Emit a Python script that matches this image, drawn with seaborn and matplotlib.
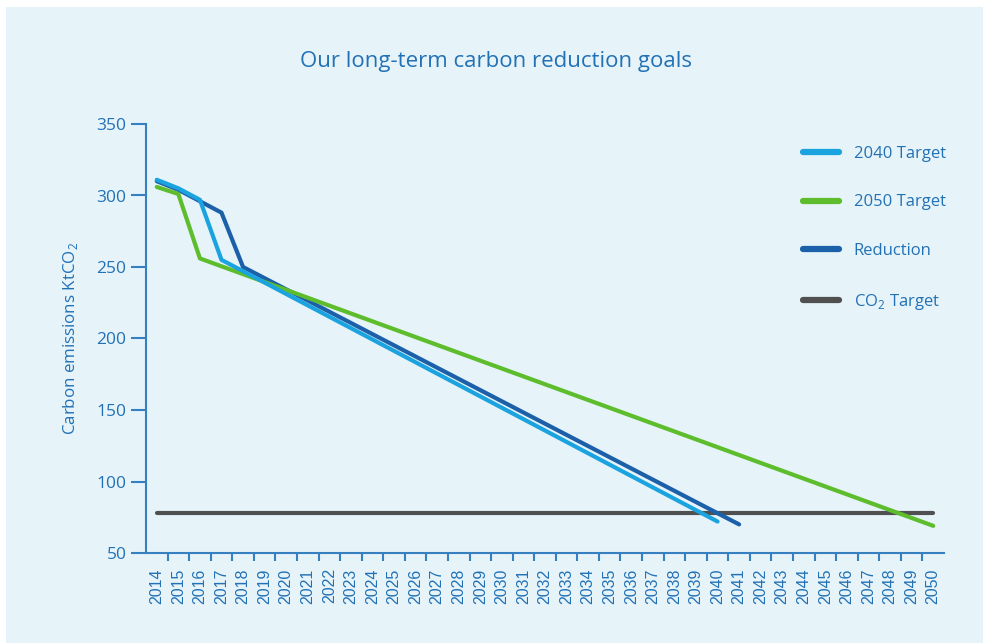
import pandas as pd
import numpy as np
import matplotlib.pyplot as plt
import seaborn as sns
from matplotlib.lines import Line2D
from matplotlib.patches import Rectangle

# values (vertices of each line)
years_2040 = [2014, 2015, 2016, 2017, 2040]
vals_2040 = [311, 305, 297, 255, 72]

years_2050 = [2014, 2015, 2016, 2050]
vals_2050 = [306, 301, 256, 69]

years_red = [2014, 2015, 2016, 2017, 2018, 2041]
vals_red = [310, 304, 296, 288, 250, 70]

years_co2 = [2014, 2050]
vals_co2 = [78, 78]

series_names = ['2040 Target', '2050 Target', 'Reduction', 'CO$_2$ Target']
colors = ['#1ba3e0', '#5dbd2c', '#1c60a9', '#505050']
tick_years = list(range(2014, 2051))

df = pd.concat([
    pd.DataFrame({'year': years_2040, 'value': vals_2040, 'series': series_names[0]}),
    pd.DataFrame({'year': years_2050, 'value': vals_2050, 'series': series_names[1]}),
    pd.DataFrame({'year': years_red, 'value': vals_red, 'series': series_names[2]}),
    pd.DataFrame({'year': years_co2, 'value': vals_co2, 'series': series_names[3]}),
])

sns.set_style('white')
plt.rcParams['font.family'] = ['Open Sans', 'DejaVu Sans']
plt.rcParams['mathtext.fontset'] = 'custom'
plt.rcParams['mathtext.rm'] = 'Open Sans'

bg = '#e6f4fa'
blue_txt = '#2271b5'
axis_col = '#3680c0'

fig = plt.figure(figsize=(9.83, 6.43), dpi=100, facecolor='white')
fig.patches.append(Rectangle((6 / 983, 0), 1, 1 - 7 / 643, transform=fig.transFigure,
                             facecolor=bg, edgecolor='none', zorder=-10))
ax = fig.add_axes([146 / 983, 1 - 553 / 643, 798 / 983, 429 / 643])
ax.set_facecolor(bg)

# CO2 first, then reduction, 2050 and 2040 on top
order = [series_names[3], series_names[2], series_names[1], series_names[0]]
pal = dict(zip(series_names, colors))
for name in order:
    sns.lineplot(data=df[df.series == name], x='year', y='value', color=pal[name],
                 linewidth=3.0, ax=ax, legend=False, sort=True,
                 solid_capstyle='round')

ax.set_xlim(2013.5, 2050.5)
ax.set_ylim(50, 350)
ax.set_yticks([50, 100, 150, 200, 250, 300, 350])
ax.set_xticks(tick_years)
ax.set_xticklabels([str(y) for y in tick_years], rotation=90, fontsize=11.5,
                   color=blue_txt, family=['Liberation Sans', 'DejaVu Sans'])
ax.set_xticks(np.array(tick_years[1:]) - 0.5, minor=True)
ax.tick_params(axis='x', which='major', length=0, pad=11)
ax.tick_params(axis='x', which='minor', length=6, width=1.5, color=axis_col, direction='out',
               bottom=True)
ax.tick_params(axis='y', length=11, width=1.5, color=axis_col, direction='out', left=True,
               labelsize=12.5, labelcolor=blue_txt, pad=3)

for s in ['top', 'right']:
    ax.spines[s].set_visible(False)
for s in ['left', 'bottom']:
    ax.spines[s].set_color(axis_col)
    ax.spines[s].set_linewidth(1.5)

ax.set_xlabel('')
ax.set_ylabel('Carbon emissions KtCO$_2$', color=blue_txt, fontsize=12.2, labelpad=12)

fig.text(0.505, 1 - 62 / 643, 'Our long-term carbon reduction goals', ha='center', va='center',
         fontsize=16, color=blue_txt)

handles = [Line2D([0], [0], color=c, linewidth=4.5) for c in colors]
leg = ax.legend(handles, series_names, loc='upper left',
                bbox_to_anchor=(788 / 983, 1 - 131 / 643), bbox_transform=fig.transFigure,
                frameon=False, handlelength=2.15, handletextpad=0.9, labelspacing=1.95,
                fontsize=12)
for t in leg.get_texts():
    t.set_color(blue_txt)

fig.savefig('out.png', dpi=100, facecolor='white')
